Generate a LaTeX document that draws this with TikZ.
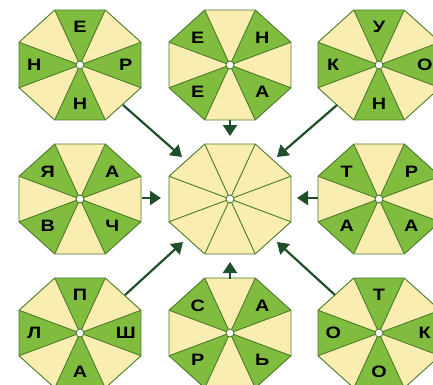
\documentclass[tikz,border=0pt]{standalone}
\usepackage{fontspec}
\setsansfont{Liberation Sans}
\usetikzlibrary{arrows.meta}
\definecolor{leaf}{HTML}{80BC3E}
\definecolor{cream}{HTML}{F9EDB0}
\definecolor{rim}{HTML}{4A7A2A}
\definecolor{arr}{HTML}{1E4F2A}
\tikzset{
  seg/.style={draw=rim, line width=0.9pt, line join=round},
  letter/.style={font=\sffamily\bfseries\fontsize{16.5}{16.5}\selectfont, text=black, inner sep=0pt, xscale=1.2},
  hub/.style={circle, draw=rim, fill=white, line width=0.9pt, minimum size=8pt, inner sep=0pt},
  link/.style={draw=arr, line width=2.2pt, -{Triangle[length=11pt,width=14pt]}}
}
% #1 name, #2 cx, #3 cy, #4 mode (0: E,N,W,S green; 1: NE,NW,SW,SE green; 2: all cream), #5-#8 letters
\newcommand\octa[8]{%
  \foreach \k in {0,...,7} {
    \pgfmathsetmacro\aa{-22.5+45*\k}
    \pgfmathsetmacro\bb{22.5+45*\k}
    \pgfmathtruncatemacro\gg{mod(\k+#4,2)}
    \ifnum\gg=0 \def\col{leaf}\else\def\col{cream}\fi
    \ifnum#4=2 \def\col{cream}\fi
    \fill[\col] (#2,#3) -- ({#2+66*cos(\aa)},{#3-59.5*sin(\aa)}) -- ({#2+66*cos(\bb)},{#3-59.5*sin(\bb)}) -- cycle;
  }
  \foreach \k in {0,...,7} {
    \draw[seg] (#2,#3) -- ({#2+66*cos(22.5+45*\k)},{#3-59.5*sin(22.5+45*\k)});
  }
  \draw[seg] ({#2+66*cos(22.5)},{#3-59.5*sin(22.5)})
    \foreach \k in {1,...,7} { -- ({#2+66*cos(22.5+45*\k)},{#3-59.5*sin(22.5+45*\k)}) } -- cycle;
  \node[hub] (#1) at (#2,#3) {};
  \ifnum#4<2
    \pgfmathsetmacro\off{45*#4}
    \node[letter] (#1a) at ({#2+0.75*61*cos(\off)},{#3-0.7*55*sin(\off)}) {#5};
    \node[letter] (#1b) at ({#2+0.75*61*cos(\off+90)},{#3-0.7*55*sin(\off+90)}) {#6};
    \node[letter] (#1c) at ({#2+0.75*61*cos(\off+180)},{#3-0.7*55*sin(\off+180)}) {#7};
    \node[letter] (#1d) at ({#2+0.75*61*cos(\off+270)},{#3-0.7*55*sin(\off+270)}) {#8};
  \fi
}
\begin{document}
\begin{tikzpicture}[x=1pt,y=-1pt]
  \useasboundingbox (0,0) rectangle (433,384);
  \begin{scope}
    \clip (0,0) rectangle (433,384);
    \octa{tl}{80}{65}{0}{Р}{Е}{Н}{Н}
    \octa{tm}{230}{65}{1}{Н}{Е}{Е}{А}
    \octa{tr}{379}{65}{0}{О}{У}{К}{Н}
    \octa{ml}{80}{199}{1}{А}{Я}{В}{Ч}
    \octa{cc}{230}{199}{2}{}{}{}{}
    \octa{mr}{379}{199}{1}{Р}{Т}{А}{А}
    \octa{bl}{80}{333}{0}{Ш}{П}{Л}{А}
    \octa{bm}{230}{333}{1}{А}{С}{Р}{Ь}
    \octa{br}{379}{333}{0}{К}{Т}{О}{О}
  \end{scope}
  \coordinate (s1) at (123,105); \coordinate (t1) at (182,157);
  \coordinate (s2) at (230,120); \coordinate (t2) at (230,136);
  \coordinate (s3) at (337,105); \coordinate (t3) at (277,157);
  \coordinate (s4) at (142,198); \coordinate (t4) at (161,198);
  \coordinate (s5) at (318,198); \coordinate (t5) at (297,198);
  \coordinate (s6) at (125,295); \coordinate (t6) at (183,242);
  \coordinate (s7) at (230,279); \coordinate (t7) at (230,262);
  \coordinate (s8) at (335,295); \coordinate (t8) at (277,242);
  \foreach \i in {1,...,8} { \draw[link] (s\i) -- (t\i); }
\end{tikzpicture}
\end{document}
